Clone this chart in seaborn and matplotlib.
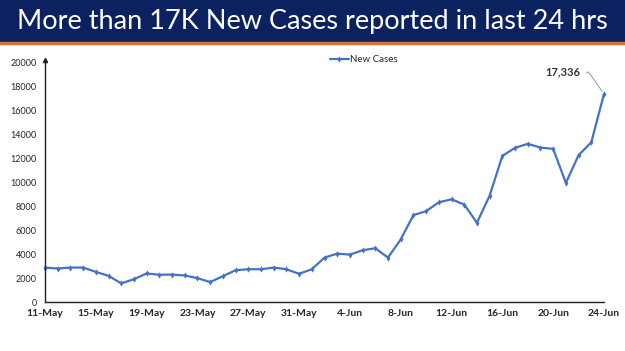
import pandas as pd
import matplotlib
matplotlib.use("Agg")
import matplotlib.pyplot as plt
import matplotlib.dates as mdates
from matplotlib.patches import Rectangle
import seaborn as sns

# Daily new cases, 11-May to 24-Jun
dates = pd.date_range("2020-05-11", "2020-06-24", freq="D")
new_cases = [
    2870, 2790, 2870, 2870, 2510, 2180, 1550, 1900, 2380, 2270,
    2290, 2210, 1990, 1660, 2150, 2650, 2730, 2730, 2870, 2730,
    2350, 2730, 3700, 4030, 3950, 4310, 4480, 3700, 5220, 7240,
    7570, 8310, 8560, 8120, 6600, 8870, 12180, 12850, 13180, 12870,
    12760, 9920, 12240, 13310, 17336,
]
series_name = "New Cases"
title = "More than 17K New Cases reported in last 24 hrs"
y_ticks = [0, 2000, 4000, 6000, 8000, 10000, 12000, 14000, 16000, 18000, 20000]

df = pd.DataFrame({"date": dates, "cases": new_cases})

sns.set_style("white")
plt.rcParams["font.family"] = ["Lato", "DejaVu Sans"]

line_color = "#4472C4"
fig = plt.figure(figsize=(6.25, 3.51), dpi=100)

# title band
fig.patches.append(Rectangle((0, 1 - 42 / 351), 1, 42 / 351, transform=fig.transFigure,
                             color="#0c2160", zorder=0))
fig.patches.append(Rectangle((0, 1 - 44 / 351), 1, 2 / 351, transform=fig.transFigure,
                             color="#e0703a", zorder=0))
fig.text(0.5, 1 - 21 / 351, title, color="white", fontsize=19.5, ha="center",
         va="center", family=["Lato", "DejaVu Sans"])

ax = fig.add_axes([45 / 625, 1 - 302 / 351, (604 - 45) / 625, 240 / 351])
sns.lineplot(data=df, x="date", y="cases", ax=ax, color=line_color, linewidth=1.6,
             marker="d", markersize=3.2, markeredgewidth=0, label=series_name,
             clip_on=False)

ax.set_xlim(dates[0], dates[-1])
ax.set_ylim(0, 20000)
ax.set_yticks(y_ticks)
ax.set_yticklabels([str(v) for v in y_ticks], fontsize=6.5)
ax.set_xticks(dates[::4])
ax.xaxis.set_major_formatter(mdates.DateFormatter("%-d-%b"))
for lbl in ax.get_xticklabels():
    lbl.set_fontsize(7.5)
    lbl.set_fontweight("bold")
ax.set_xlabel("")
ax.set_ylabel("")

for side in ["top", "right"]:
    ax.spines[side].set_visible(False)
for side in ["left", "bottom"]:
    ax.spines[side].set_color("#222222")
    ax.spines[side].set_linewidth(1.0)
ax.tick_params(axis="x", direction="out", length=3, width=1, color="#222222", pad=2)
ax.tick_params(axis="y", length=0, pad=6)
ax.plot(0, 1.01, marker="^", markersize=3, color="#222222", transform=ax.transAxes,
        clip_on=False)

leg = ax.legend(loc="upper center", bbox_to_anchor=(0.57, 1.065), frameon=False,
                fontsize=7, handlelength=2.0, handletextpad=0.1)

ax.annotate(f"{new_cases[-1]:,}", xy=(dates[-1], new_cases[-1]),
            xytext=(dates[-3] + pd.Timedelta(hours=3), 19150), fontsize=8,
            fontweight="bold", color="#333333", ha="right", va="center",
            arrowprops=dict(arrowstyle="-", color="#999999", lw=0.7,
                            connectionstyle="angle,angleA=0,angleB=125,rad=0"))

fig.savefig("out.png", dpi=100)
